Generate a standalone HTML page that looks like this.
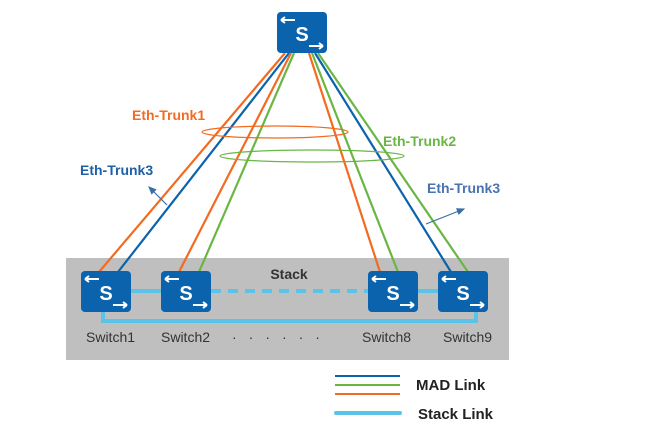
<!DOCTYPE html>
<html><head><style>
body{margin:0;background:#fff;}
svg{display:block;font-family:"Liberation Sans",sans-serif;}
</style></head><body>
<svg width="664" height="430" viewBox="0 0 664 430" xmlns="http://www.w3.org/2000/svg">
<defs>
<g id="sw">
<rect x="0" y="0" width="50" height="41" rx="4" fill="#0b62ad"/>
<text x="25" y="29" font-size="20" font-weight="bold" fill="#fff" text-anchor="middle">S</text>
<path d="M4 8 H18 M4 8 L8 5 M4 8 L8 11" stroke="#fff" stroke-width="2" fill="none"/>
<path d="M32 34 H46 M46 34 L42 31 M46 34 L42 37" stroke="#fff" stroke-width="2" fill="none"/>
</g>
<marker id="ah" markerWidth="8" markerHeight="8" refX="6" refY="4" orient="auto"><path d="M0 1 L7 4 L0 7Z" fill="#3a6ea8"/></marker>
</defs>
<rect x="66" y="258" width="443" height="102" fill="#bfbfbf"/>
<g stroke-width="2.2" fill="none">
<line x1="285" y1="53" x2="99" y2="272" stroke="#f26b21"/>
<line x1="289" y1="53" x2="118" y2="272" stroke="#0b62ad"/>
<line x1="291" y1="53" x2="179" y2="272" stroke="#f26b21"/>
<line x1="294" y1="53" x2="199" y2="272" stroke="#6ab645"/>
<line x1="309" y1="53" x2="380" y2="272" stroke="#f26b21"/>
<line x1="312" y1="53" x2="398" y2="272" stroke="#6ab645"/>
<line x1="315" y1="53" x2="451" y2="272" stroke="#0b62ad"/>
<line x1="318" y1="53" x2="468" y2="272" stroke="#6ab645"/>
</g>
<ellipse cx="275" cy="132" rx="73" ry="6" fill="none" stroke="#f26b21" stroke-width="1.2"/>
<ellipse cx="312" cy="156" rx="92" ry="6" fill="none" stroke="#6ab645" stroke-width="1.2"/>
<line x1="167" y1="205" x2="149" y2="187" stroke="#3a6ea8" stroke-width="1.2" marker-end="url(#ah)"/>
<line x1="426" y1="224" x2="464" y2="209" stroke="#3a6ea8" stroke-width="1.2" marker-end="url(#ah)"/>
<text x="132" y="120" font-size="14" font-weight="bold" fill="#f26b21">Eth-Trunk1</text>
<text x="80" y="175" font-size="14" font-weight="bold" fill="#1f5fa8">Eth-Trunk3</text>
<text x="383" y="146" font-size="14" font-weight="bold" fill="#6ab645">Eth-Trunk2</text>
<text x="427" y="193" font-size="14" font-weight="bold" fill="#4a72b0">Eth-Trunk3</text>
<use href="#sw" x="277" y="12"/>
<g stroke="#5bc3e8" stroke-width="4" fill="none">
<line x1="131" y1="291" x2="161" y2="291"/>
<line x1="211" y1="291" x2="368" y2="291" stroke-dasharray="10 7"/>
<line x1="418" y1="291" x2="438" y2="291"/>
<path d="M103 312 V321 H476 V312"/>
</g>
<use href="#sw" x="81" y="271"/>
<use href="#sw" x="161" y="271"/>
<use href="#sw" x="368" y="271"/>
<use href="#sw" x="438" y="271"/>
<text x="289" y="279" font-size="14" font-weight="bold" fill="#333" text-anchor="middle">Stack</text>
<g font-size="14" fill="#333">
<text x="86" y="342">Switch1</text>
<text x="161" y="342">Switch2</text>
<text x="362" y="342">Switch8</text>
<text x="443" y="342">Switch9</text>
<text x="232" y="342" letter-spacing="12">······</text>
</g>
<line x1="335" y1="376" x2="400" y2="376" stroke="#0b62ad" stroke-width="2"/>
<line x1="335" y1="385" x2="400" y2="385" stroke="#6ab645" stroke-width="2"/>
<line x1="335" y1="394" x2="400" y2="394" stroke="#f26b21" stroke-width="2"/>
<line x1="336" y1="413" x2="400" y2="413" stroke="#5bc3e8" stroke-width="4" stroke-linecap="round"/>
<text x="416" y="390" font-size="15" font-weight="bold" fill="#222">MAD Link</text>
<text x="418" y="419" font-size="15" font-weight="bold" fill="#222">Stack Link</text>
</svg>
</body></html>
